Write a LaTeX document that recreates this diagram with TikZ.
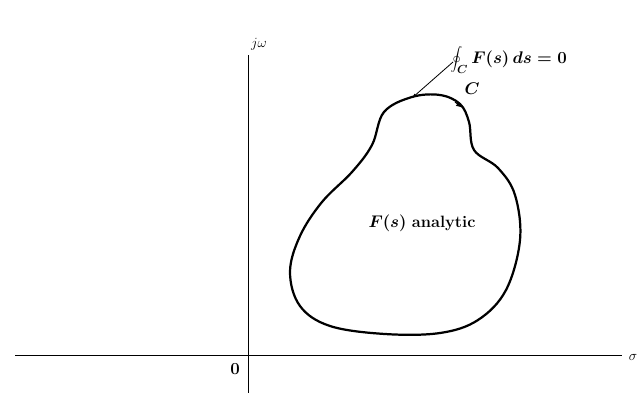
\documentclass[tikz,border=0pt]{standalone}
\usetikzlibrary{arrows.meta}
\begin{document}
\begin{tikzpicture}[x=0.03cm, y=-0.03cm, line width=0.7pt,
		axis/.style={line width=0.7pt},
		contour/.style={line width=1.9pt},
		lbl/.style={font=\fontsize{14}{16}\selectfont\boldmath, inner sep=1pt},
		small lbl/.style={font=\fontsize{12}{14}\selectfont, inner sep=1pt}]
	\useasboundingbox (0,0) rectangle (638,393);
	% ---- axes ----
	\coordinate (xl) at (15,355);
	\coordinate (xr) at (622,355);
	\coordinate (yb) at (248,393);
	\coordinate (yt) at (248,55);
	\draw[axis] (xl) -- (xr);
	\draw[axis] (yb) -- (yt);
	\node[small lbl] (jw) at (259,44) {$j\omega$};
	\node[lbl] (orig) at (235,369) {$0$};
	\node[small lbl] (sig) at (633,357) {$\sigma$};
	% ---- closed contour C ----
	\draw[contour] plot[smooth cycle, tension=0.6] coordinates {
		(412,97) (440,95) (460,104) (469,122) (474,150) (498,168)
		(515,195) (520,240) (506,290) (478,320) (440,333) (385,334)
		(330,326) (300,306) (290,272) (300,236) (322,202) (352,172)
		(372,145) (384,112)};
	\coordinate (tip) at (412,98);
	\coordinate (cdir) at (463,108);
	\draw[-{Latex[length=6pt]}, line width=0.9pt] (455,102) -- (cdir);
	\node[lbl] (clab) at (472,89) {$C$};
	% ---- labels ----
	\node[lbl, anchor=west] (intg) at (449,60) {$\displaystyle\oint_{C} F(s)\,ds = 0$};
	\draw[-{Latex[length=4pt]}] (intg.west) ++(4,2) -- (tip);
	\node[lbl] (anal) at (422,223) {$F(s)$ \bfseries analytic};
\end{tikzpicture}
\end{document}
